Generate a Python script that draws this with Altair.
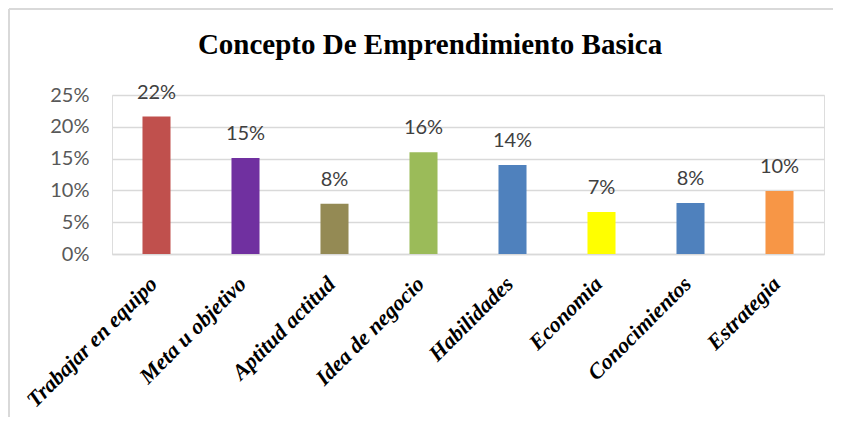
import altair as alt
import pandas as pd

categories = ["Trabajar en equipo", "Meta u objetivo", "Aptitud actitud", "Idea de negocio",
              "Habilidades", "Economia", "Conocimientos", "Estrategia"]
values = [0.216, 0.151, 0.079, 0.160, 0.140, 0.066, 0.080, 0.099]
colors = ["#C0504D", "#7030A0", "#948A54", "#9BBB59", "#4F81BD", "#FFFF00", "#4F81BD", "#F79646"]
y_ticks = [0, 0.05, 0.10, 0.15, 0.20, 0.25]
title_text = "Concepto De Emprendimiento Basica"

df = pd.DataFrame({"cat": categories, "val": values, "color": colors})

x_enc = alt.X("cat:N", sort=categories, title=None,
              scale=alt.Scale(paddingInner=0.685, paddingOuter=0.3425),
              axis=alt.Axis(labelAngle=-45, labelAlign="right", labelBaseline="top",
                            labelFont="Liberation Serif", labelFontWeight="bold",
                            labelFontStyle="italic", labelFontSize=22, labelColor="#000000",
                            labelPadding=19, labelOffset=-10, ticks=False, labelOverlap=False,
                            labelLimit=0, domainColor="#d9d9d9", domainWidth=1.5))
y_enc = alt.Y("val:Q", title=None,
              scale=alt.Scale(domain=[0, 0.25], nice=False),
              axis=alt.Axis(values=y_ticks, format=".0%", grid=True, gridColor="#d9d9d9",
                            gridWidth=1.5, domain=False, ticks=False, labelFont="Lato",
                            labelFontSize=20, labelColor="#595959", labelPadding=23,
                            labelOverlap=False))

bars = alt.Chart(df).mark_bar().encode(
    x=x_enc, y=y_enc, color=alt.Color("color:N", scale=None)
)
labels = alt.Chart(df).mark_text(baseline="alphabetic", dy=-18, font="Lato", fontSize=20,
                                 color="#404040").encode(
    x=x_enc, y=y_enc, text=alt.Text("val:Q", format=".0%")
)

one_df = pd.DataFrame({"t": [title_text]})
title_mark = alt.Chart(one_df).mark_text(font="Liberation Serif", fontSize=29, fontWeight="bold",
                                         color="#000000", align="center",
                                         baseline="alphabetic").encode(
    x=alt.value(318), y=alt.value(-41), text="t:N"
)
left_border = alt.Chart(one_df).mark_rule(color="#d9d9d9", strokeWidth=2).encode(
    x=alt.value(-103), y=alt.value(-86), y2=alt.value(330)
)
top_border = alt.Chart(one_df).mark_rule(color="#d9d9d9", strokeWidth=2).encode(
    x=alt.value(-103), x2=alt.value(740), y=alt.value(-86)
)

chart = alt.layer(left_border, top_border, bars, labels, title_mark).properties(
    width=712, height=159,
    autosize=alt.AutoSizeParams(type="none"),
    padding={"left": 104, "top": 87, "right": 9, "bottom": 163},
).configure_view(stroke=None).configure(background="white")

chart.save("out.html", embed_options={"renderer": "svg", "actions": False})
